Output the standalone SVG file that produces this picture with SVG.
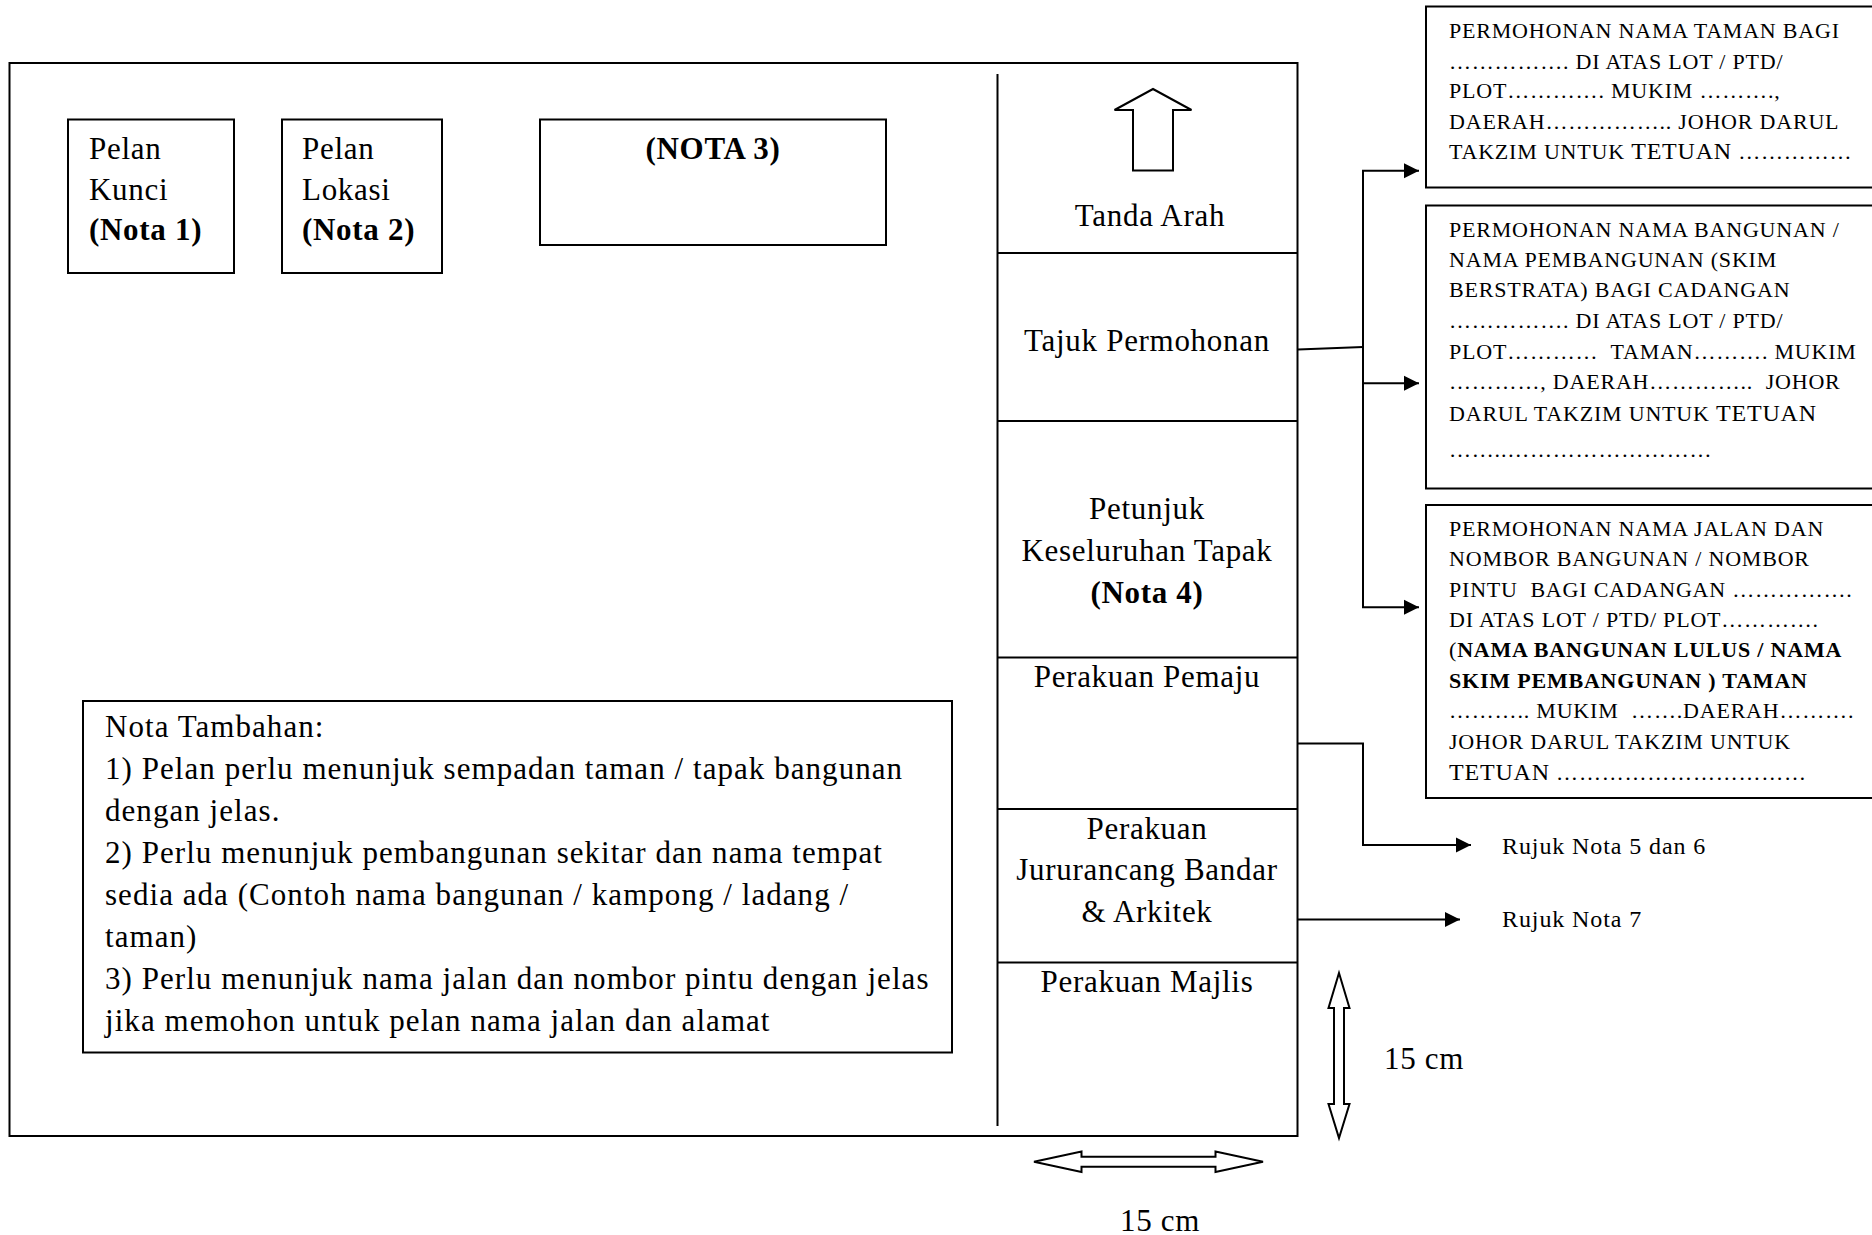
<svg xmlns="http://www.w3.org/2000/svg" width="1872" height="1235" viewBox="0 0 1872 1235">
<style>
  .ln { stroke:#000; stroke-width:2; fill:none; }
  .box { stroke:#000; stroke-width:2; fill:#fff; }
  .big { font-family:"Liberation Serif", serif; font-size:31px; letter-spacing:0.7px; fill:#000; }
  .note { font-family:"Liberation Serif", serif; font-size:31px; letter-spacing:1.05px; fill:#000; }
  .ctr { text-anchor:middle; }
  .b { font-weight:bold; }
  .sm { font-family:"Liberation Serif", serif; font-size:22px; letter-spacing:0.8px; fill:#000; }
  .rj { font-family:"Liberation Serif", serif; font-size:24px; letter-spacing:0.9px; fill:#000; }
  .hollow { stroke:#000; stroke-width:2; fill:#fff; stroke-linejoin:miter; }
</style>
<defs>
  <marker id="ah" markerUnits="userSpaceOnUse" markerWidth="16" markerHeight="16" refX="15" refY="8" orient="auto">
    <path d="M0,0.5 L15,8 L0,15.5 Z" fill="#000"/>
  </marker>
</defs>
<rect x="0" y="0" width="1872" height="1235" fill="#fff"/>

<g id="frame">
  <rect class="ln" x="9.5" y="63" width="1288" height="1073"/>
  <line class="ln" x1="997.5" y1="74" x2="997.5" y2="1126"/>
  <line class="ln" x1="997.5" y1="253" x2="1297.5" y2="253"/>
  <line class="ln" x1="997.5" y1="421" x2="1297.5" y2="421"/>
  <line class="ln" x1="997.5" y1="657.5" x2="1297.5" y2="657.5"/>
  <line class="ln" x1="997.5" y1="809" x2="1297.5" y2="809"/>
  <line class="ln" x1="997.5" y1="962.5" x2="1297.5" y2="962.5"/>
</g>

<g id="pelan-kunci">
  <rect class="box" x="68" y="119.5" width="166" height="153.5"/>
  <text class="big" x="89" y="158.5">Pelan</text>
  <text class="big" x="89" y="200">Kunci</text>
  <text class="big b" x="89" y="240">(Nota 1)</text>
</g>
<g id="pelan-lokasi">
  <rect class="box" x="282" y="119.5" width="160" height="153.5"/>
  <text class="big" x="302" y="158.5">Pelan</text>
  <text class="big" x="302" y="200">Lokasi</text>
  <text class="big b" x="302" y="240">(Nota 2)</text>
</g>
<g id="nota3">
  <rect class="box" x="540" y="119.5" width="346" height="125.5"/>
  <text class="big b ctr" x="713" y="159">(NOTA 3)</text>
</g>

<g id="nota-tambahan">
  <rect class="box" x="83" y="701" width="869" height="351.5"/>
  <text class="note" x="105" y="737">Nota Tambahan:</text>
  <text class="note" x="105" y="779">1) Pelan perlu menunjuk sempadan taman / tapak bangunan</text>
  <text class="note" x="105" y="821">dengan jelas.</text>
  <text class="note" x="105" y="863">2) Perlu menunjuk pembangunan sekitar dan nama tempat</text>
  <text class="note" x="105" y="905">sedia ada (Contoh nama bangunan / kampong / ladang /</text>
  <text class="note" x="105" y="947">taman)</text>
  <text class="note" x="105" y="989">3) Perlu menunjuk nama jalan dan nombor pintu dengan jelas</text>
  <text class="note" x="105" y="1031">jika memohon untuk pelan nama jalan dan alamat</text>
</g>

<g id="tanda-arah">
  <polygon class="hollow" points="1153,89 1191.5,110 1173,110 1173,170.5 1133,170.5 1133,110 1114.5,110"/>
  <text class="big ctr" x="1150" y="225.5">Tanda Arah</text>
</g>
<g id="tajuk-permohonan">
  <text class="big ctr" x="1147" y="351">Tajuk Permohonan</text>
</g>
<g id="petunjuk">
  <text class="big ctr" x="1147" y="518.5">Petunjuk</text>
  <text class="big ctr" x="1147" y="561">Keseluruhan Tapak</text>
  <text class="big ctr b" x="1147" y="603">(Nota 4)</text>
</g>
<g id="perakuan-pemaju">
  <text class="big ctr" x="1147" y="687">Perakuan Pemaju</text>
</g>
<g id="perakuan-jururancang">
  <text class="big ctr" x="1147" y="838.5">Perakuan</text>
  <text class="big ctr" x="1147" y="880">Jururancang Bandar</text>
  <text class="big ctr" x="1147" y="922">&amp; Arkitek</text>
</g>
<g id="perakuan-majlis">
  <text class="big ctr" x="1147" y="991.5">Perakuan Majlis</text>
</g>

<g id="box-taman">
  <rect class="box" x="1426" y="6.5" width="460" height="181"/>
  <text class="sm" x="1449" y="38">PERMOHONAN NAMA TAMAN BAGI</text>
  <text class="sm" x="1449" y="68.5">……………. DI ATAS LOT / PTD/</text>
  <text class="sm" x="1449" y="98">PLOT…………. MUKIM ……….,</text>
  <text class="sm" x="1449" y="128.5">DAERAH…………….. JOHOR DARUL</text>
  <text class="sm" x="1449" y="159">TAKZIM UNTUK <tspan font-size="24">TETUAN</tspan> ……………</text>
</g>
<g id="box-bangunan">
  <rect class="box" x="1426" y="205.5" width="460" height="283"/>
  <text class="sm" x="1449" y="236.5">PERMOHONAN NAMA BANGUNAN /</text>
  <text class="sm" x="1449" y="266.5">NAMA PEMBANGUNAN (SKIM</text>
  <text class="sm" x="1449" y="297">BERSTRATA) BAGI CADANGAN</text>
  <text class="sm" x="1449" y="328">……………. DI ATAS LOT / PTD/</text>
  <text class="sm" x="1449" y="358.5" xml:space="preserve">PLOT…………  TAMAN………. MUKIM</text>
  <text class="sm" x="1449" y="389" xml:space="preserve">…………, DAERAH…………..  JOHOR</text>
  <text class="sm" x="1449" y="420.5">DARUL TAKZIM UNTUK <tspan font-size="24">TETUAN</tspan></text>
  <text class="sm" x="1449" y="457">……..………………………</text>
</g>
<g id="box-jalan">
  <rect class="box" x="1426" y="505" width="460" height="293"/>
  <text class="sm" x="1449" y="535.5">PERMOHONAN NAMA JALAN DAN</text>
  <text class="sm" x="1449" y="566">NOMBOR BANGUNAN / NOMBOR</text>
  <text class="sm" x="1449" y="596.5" xml:space="preserve">PINTU  BAGI CADANGAN …………….</text>
  <text class="sm" x="1449" y="627">DI ATAS LOT / PTD/ PLOT………….</text>
  <text class="sm" x="1449" y="657">(<tspan class="b">NAMA BANGUNAN LULUS / NAMA</tspan></text>
  <text class="sm b" x="1449" y="687.5">SKIM PEMBANGUNAN ) TAMAN</text>
  <text class="sm" x="1449" y="718" xml:space="preserve">……….. MUKIM  …….DAERAH……….</text>
  <text class="sm" x="1449" y="748.5">JOHOR DARUL TAKZIM UNTUK</text>
  <text class="sm" x="1449" y="779.5"><tspan font-size="24">TETUAN</tspan> ……………………………</text>
</g>

<g id="rujuk-56">
  <text class="rj" x="1502" y="853.5">Rujuk Nota 5 dan 6</text>
</g>
<g id="rujuk-7">
  <text class="rj" x="1502" y="927">Rujuk Nota 7</text>
</g>

<g id="connectors">
  <polyline class="ln" points="1298,349.5 1363,347"/>
  <line class="ln" x1="1363" y1="170" x2="1363" y2="608"/>
  <line class="ln" x1="1362" y1="170.7" x2="1419" y2="170.7" marker-end="url(#ah)"/>
  <line class="ln" x1="1363" y1="383.3" x2="1419" y2="383.3" marker-end="url(#ah)"/>
  <line class="ln" x1="1362" y1="607.3" x2="1419" y2="607.3" marker-end="url(#ah)"/>
  <polyline class="ln" points="1298,743.5 1363,743.5 1363,845 1471,845" marker-end="url(#ah)"/>
  <line class="ln" x1="1298" y1="919.5" x2="1460" y2="919.5" marker-end="url(#ah)"/>
</g>

<g id="dim-vertical">
  <polygon class="hollow" points="1339,973 1349.5,1008 1344,1008 1344,1104 1349.5,1104 1339,1138 1328.5,1104 1334,1104 1334,1008 1328.5,1008"/>
  <text class="big" x="1384" y="1069">15 cm</text>
</g>
<g id="dim-horizontal">
  <polygon class="hollow" points="1034,1161.7 1081.5,1151.5 1081.5,1156.7 1215.5,1156.7 1215.5,1151.5 1263,1161.7 1215.5,1172 1215.5,1166.7 1081.5,1166.7 1081.5,1172"/>
  <text class="big" x="1120" y="1231">15 cm</text>
</g>
</svg>
